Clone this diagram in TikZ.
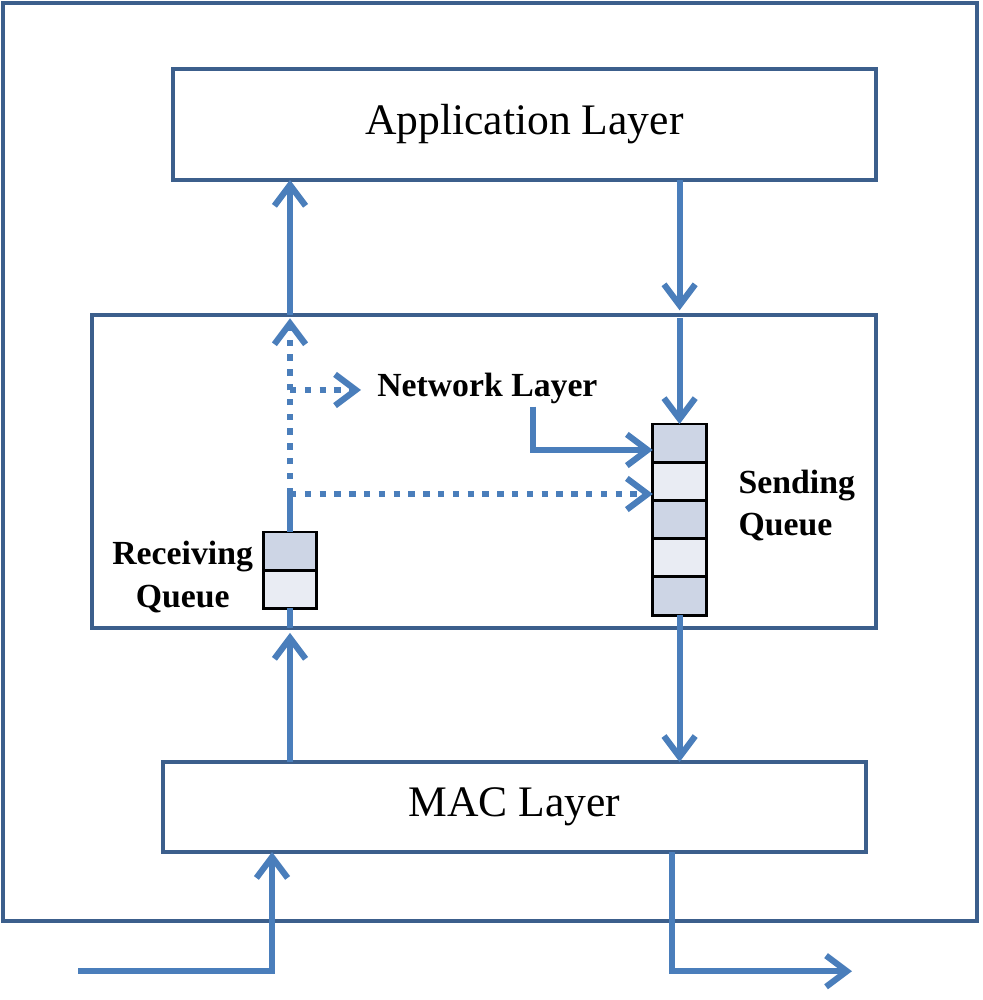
\documentclass[tikz,border=0pt]{standalone}
\usepackage{fontspec}
\setmainfont{Liberation Serif}
\usetikzlibrary{positioning,arrows.meta}
\definecolor{flowblue}{HTML}{4A7EBB}
\definecolor{boxline}{HTML}{3C5F8C}
\definecolor{celldark}{HTML}{CDD5E5}
\definecolor{celllight}{HTML}{E9ECF3}

\begin{document}
\begin{tikzpicture}[
    layer/.style={draw=boxline, line width=3pt, font=\fontsize{31}{37}\selectfont, inner sep=0pt, outer sep=0pt},
    cell/.style={draw=black, line width=2pt, minimum width=1.34cm, minimum height=0.955cm, inner sep=0pt, outer sep=0pt},
    lbl/.style={font=\bfseries\fontsize{24}{30}\selectfont, inner sep=0pt},
    wire/.style={draw=flowblue, line width=4.4pt},
    flow/.style={wire, -{Straight Barb[length=0.52cm,width=0.78cm]}},
    dots/.style={flow, dash pattern=on 0.16cm off 0.21cm}
  ]
  \useasboundingbox (0,0) rectangle (24.55,25);
  \node[layer, minimum width=24.35cm, minimum height=22.95cm] (frame) at (12.25,13.45) {};
  \node[layer, minimum width=17.575cm, minimum height=2.775cm] (app) at (13.11,21.89) {Application Layer};
  \node[layer, minimum width=19.6cm, minimum height=7.825cm] (net) at (12.1,13.21) {};
  \node[layer, minimum width=17.575cm, minimum height=2.25cm] (mac) at (12.86,4.825) {MAC Layer};

  % queues
  \node[cell, fill=celldark] (rq1) at (7.25,11.22) {};
  \node[cell, fill=celllight, below=0pt of rq1] (rq2) {};
  \node[cell, fill=celldark] (sq1) at (16.99,13.92) {};
  \foreach \a/\b/\c in {sq1/sq2/celllight, sq2/sq3/celldark, sq3/sq4/celllight, sq4/sq5/celldark}
    \node[cell, fill=\c, below=0pt of \a] (\b) {};

  \node[lbl, anchor=base west] (netlabel) at (9.425,15.075) {Network Layer};
  \node[lbl, align=center, left=0.25cm of rq1.south west, yshift=-0.17cm] (rqlabel) {Receiving\\Queue};
  \node[lbl, align=left, right=0.8cm of sq3.north east, yshift=-0.12cm] (sqlabel) {Sending\\Queue};

  \coordinate (split) at (7.25,12.65);
  \coordinate (inp) at (1.95,0.72);
  \coordinate (outp) at (21.3,0.72);
  \coordinate (macin) at (mac.south -| 6.8,0);
  \coordinate (macout) at (mac.south -| 16.8,0);

  % receiving side
  \draw[wire] (rq1.north) -- (split);
  \draw[dots] (split) -- ([yshift=-0.08cm]split |- net.north);
  \draw[flow] (split |- net.north) -- (split |- app.south);
  \draw[dots] (split |- 0,15.25) -- ([xshift=-0.4cm]netlabel.west |- 0,15.25);
  \draw[dots] (split) -- (split -| sq2.west);
  \draw[flow] (rq2.south |- mac.north) -- ([yshift=-0.12cm]rq2.south |- net.south);
  \draw[wire] (rq2.south |- net.south) -- (rq2.south);
  \draw[flow] (inp) -| (macin);

  % sending side
  \draw[flow] (sq1.north |- app.south) -- ([yshift=0.12cm]sq1.north |- net.north);
  \draw[flow] ([yshift=-0.08cm]sq1.north |- net.north) -- (sq1.north);
  \draw[flow] (netlabel.south) ++(1.14,-0.05) |- ([yshift=-0.17cm]sq1.west);
  \draw[flow] (sq5.south) -- (sq5.south |- mac.north);
  \draw[flow] (macout) |- (outp);
\end{tikzpicture}
\end{document}
